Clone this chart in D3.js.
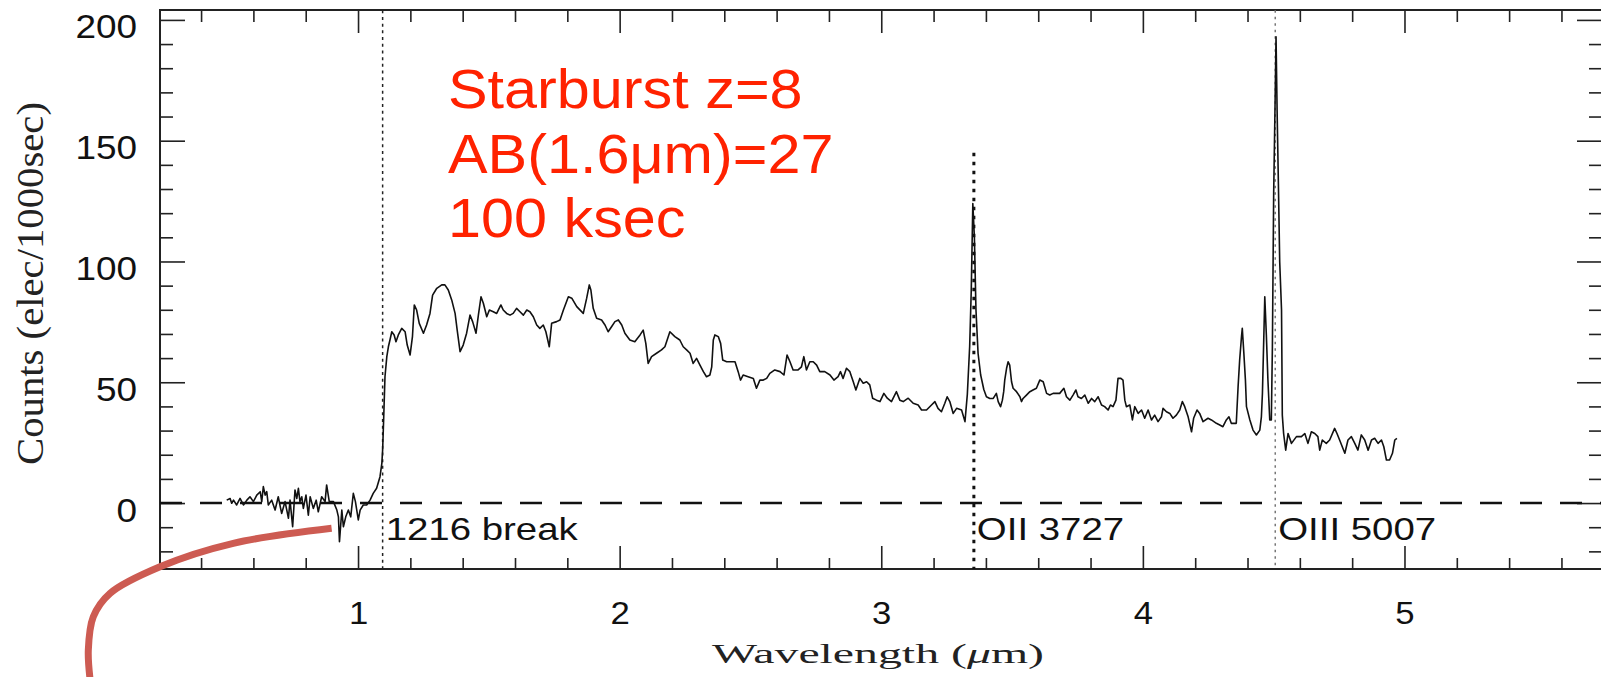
<!DOCTYPE html>
<html>
<head>
<meta charset="utf-8">
<script src="https://cdn.jsdelivr.net/npm/d3@7"></script>
<style>
  body { margin: 0; background: #fff; }
  svg { display: block; }
</style>
</head>
<body>
<div id="chart"></div>
<script>
// Spectrum: wavelength (micron) and counts (elec/1000sec)
const wavelength = [
  0.498,0.511,0.517,0.524,0.536,0.549,0.562,0.575,0.587,0.600,
  0.613,0.626,0.632,0.638,0.645,0.651,0.657,0.670,0.683,0.695,
  0.708,0.721,0.734,0.740,0.750,0.759,0.766,0.772,0.778,0.785,
  0.791,0.801,0.810,0.817,0.829,0.840,0.848,0.861,0.874,0.880,
  0.890,0.906,0.919,0.925,0.929,0.938,0.944,0.953,0.963,0.972,
  0.982,0.990,1.001,1.008,1.020,1.033,1.046,1.058,1.071,1.084,
  1.091,1.094,1.098,1.103,1.110,1.116,1.122,1.129,1.138,1.145,
  1.154,1.167,1.180,1.188,1.199,1.208,1.215,1.224,1.234,1.250,
  1.262,1.275,1.285,1.301,1.320,1.332,1.345,1.358,1.371,1.379,
  1.390,1.402,1.415,1.428,1.438,1.451,1.460,1.470,1.479,1.492,
  1.502,1.517,1.530,1.546,1.555,1.568,1.581,1.593,1.606,1.619,
  1.632,1.645,1.657,1.670,1.683,1.695,1.708,1.718,1.731,1.740,
  1.759,1.772,1.785,1.804,1.817,1.836,1.861,1.874,1.884,1.890,
  1.899,1.912,1.931,1.944,1.956,1.969,1.982,1.995,2.008,2.020,
  2.039,2.058,2.078,2.090,2.100,2.109,2.122,2.141,2.160,2.173,
  2.192,2.211,2.230,2.243,2.256,2.269,2.281,2.294,2.307,2.320,
  2.332,2.345,2.352,2.358,2.364,2.377,2.386,2.394,2.409,2.428,
  2.441,2.453,2.462,2.472,2.491,2.511,2.523,2.536,2.549,2.562,
  2.574,2.593,2.613,2.628,2.640,2.651,2.663,2.682,2.695,2.704,
  2.714,2.727,2.740,2.753,2.765,2.784,2.804,2.819,2.835,2.844,
  2.854,2.867,2.880,2.893,2.903,2.918,2.931,2.944,2.956,2.967,
  2.982,2.995,3.010,3.023,3.039,3.058,3.071,3.084,3.103,3.122,
  3.141,3.154,3.173,3.192,3.205,3.217,3.230,3.243,3.252,3.262,
  3.275,3.288,3.307,3.320,3.329,3.338,3.344,3.350,3.356,3.362,
  3.370,3.380,3.392,3.402,3.415,3.428,3.440,3.447,3.456,3.463,
  3.468,3.472,3.479,3.485,3.491,3.498,3.504,3.517,3.530,3.536,
  3.542,3.555,3.568,3.580,3.593,3.606,3.619,3.632,3.644,3.657,
  3.682,3.698,3.708,3.721,3.733,3.744,3.752,3.765,3.778,3.791,
  3.804,3.816,3.829,3.842,3.854,3.867,3.876,3.886,3.897,3.905,
  3.916,3.924,3.931,3.937,3.950,3.960,3.969,3.982,3.995,4.007,
  4.020,4.033,4.045,4.058,4.071,4.077,4.090,4.103,4.115,4.128,
  4.141,4.151,4.160,4.173,4.186,4.194,4.207,4.217,4.230,4.249,
  4.262,4.281,4.294,4.306,4.319,4.329,4.338,4.357,4.364,4.370,
  4.377,4.380,4.386,4.392,4.396,4.409,4.421,4.434,4.447,4.453,
  4.457,4.462,4.466,4.472,4.478,4.485,4.491,4.495,4.500,4.505,
  4.509,4.513,4.518,4.523,4.530,4.533,4.538,4.546,4.555,4.568,
  4.587,4.606,4.619,4.631,4.644,4.657,4.669,4.676,4.686,4.701,
  4.714,4.733,4.742,4.752,4.772,4.784,4.797,4.810,4.822,4.835,
  4.848,4.861,4.874,4.886,4.899,4.912,4.921,4.931,4.943,4.954,
  4.963,4.971
];
const counts = [
  1.2,1.9,-0.1,1.2,-0.8,1.9,-0.8,1.2,2.6,0.6,
  3.3,4.7,0.6,6.8,3.3,4.7,-0.8,1.2,-2.9,2.6,
  -4.3,0.6,-6.3,1.2,-9.8,5.4,1.9,6.1,0.6,2.6,
  -2.2,3.3,-5.0,2.6,-2.2,1.2,-3.6,2.6,0.6,7.5,
  0.6,0.6,-2.9,-5.7,-16.0,-2.9,-9.8,-5.7,-2.9,-5.7,
  4.0,0.6,-7.0,-2.9,-0.8,-0.8,1.2,4.0,6.1,10.9,
  16.4,22.0,35.0,52.3,60.6,64.7,67.5,70.9,69.6,66.8,
  69.6,72.3,70.9,65.4,61.3,68.9,82.0,79.9,74.4,70.3,
  73.7,78.5,86.1,88.9,90.3,90.3,88.2,84.1,78.5,71.6,
  62.7,65.4,70.3,77.8,75.1,70.3,77.8,85.4,82.7,77.1,
  79.9,79.2,78.5,82.0,79.9,78.5,77.8,78.5,80.6,79.2,
  77.8,79.9,79.2,77.1,73.7,72.3,73.7,70.9,64.7,74.4,
  75.1,75.8,79.9,85.4,84.8,81.3,78.5,84.8,90.3,88.2,
  80.6,76.5,75.8,73.7,70.9,73.0,75.1,75.8,73.7,70.3,
  67.5,66.8,69.6,71.6,66.1,57.8,60.6,62.0,63.4,64.7,
  70.9,68.9,67.5,64.7,63.4,62.0,57.8,59.9,57.1,54.4,
  52.3,53.0,56.4,67.5,69.6,68.9,66.1,59.2,58.5,58.5,
  58.5,54.4,50.9,53.0,52.3,51.6,47.5,50.9,50.9,51.6,
  53.7,55.1,54.4,53.0,61.3,58.5,55.1,55.1,56.4,60.6,
  55.1,58.5,58.5,57.1,54.4,54.4,53.0,50.9,52.3,54.4,
  51.6,55.8,54.4,50.2,46.8,51.6,49.6,50.2,48.9,43.4,
  42.6,42.0,45.4,43.4,42.0,46.1,42.6,42.0,43.4,41.3,
  40.6,38.5,38.5,40.6,42.0,39.2,37.8,41.3,44.0,42.0,
  37.1,39.2,38.5,33.7,45.0,65.0,88.0,124.0,110.0,80.0,
  62.0,53.0,47.0,44.0,43.3,43.3,45.4,42.0,39.9,42.6,
  46.1,50.9,55.8,58.5,57.1,50.2,47.5,46.1,44.0,42.0,
  43.3,44.7,46.1,46.8,47.5,50.9,50.2,45.4,44.7,45.4,
  45.4,47.5,44.0,42.6,44.7,46.8,44.0,43.3,44.7,41.3,
  43.3,42.0,44.0,40.6,39.9,38.5,40.6,39.9,42.6,51.6,
  51.6,50.9,42.6,39.9,40.6,34.4,39.9,37.1,38.5,35.1,
  38.5,34.4,36.4,33.7,35.7,39.2,37.8,37.1,35.1,36.4,
  38.5,42.0,39.9,35.7,29.5,35.1,38.5,37.1,33.7,35.1,
  34.4,33.0,32.3,31.6,34.4,35.7,33.0,33.0,48.2,59.2,
  68.9,72.3,62.0,50.9,39.9,34.4,30.2,28.2,30.2,35.7,
  45.4,67.5,85.4,69.6,50.9,34.4,34.4,64.0,128.2,163.0,
  193.0,163.0,132.4,100.0,79.9,36.4,28.8,21.9,28.8,24.7,
  27.5,27.5,28.8,24.7,29.5,28.8,27.5,21.9,26.1,24.7,
  26.1,30.9,28.8,26.1,20.6,26.1,27.5,24.7,21.9,28.2,
  26.1,21.9,26.1,26.8,24.7,26.1,23.3,17.8,17.8,20.6,
  26.1,26.8
];

// Marked spectral features (observed wavelength at z=8)
const lineWaves = [1.094, 3.354, 4.506];
const lineLabels = ["1216 break", "OII 3727", "OIII 5007"];
const lineTops = [204, 145, 204];

// Axis ticks
const xMajor = [1, 2, 3, 4, 5];
const yMajor = [0, 50, 100, 150, 200];

// Red annotation
const noteLines = ["Starburst z=8", "AB(1.6\u03bcm)=27", "100 ksec"];

// Hand-drawn red pointer, in data coordinates
const pointerWave = [0.899, 0.523, 0.243, 0.052, -0.012, -0.031, -0.024];
const pointerCounts = [-10.45, -16.66, -26.35, -37.36, -47.05, -60.83, -73.3];

const W = 1601, H = 677;
const frame = {left: 160, top: 10, right: 1602, bottom: 569};

const svg = d3.select("#chart").append("svg")
    .attr("width", W)
    .attr("height", H)
    .style("background", "#fff");

const x = d3.scaleLinear().domain([0.243, 5.755]).range([frame.left, frame.right]);
const y = d3.scaleLinear().domain([-27.3, 204.1]).range([frame.bottom, frame.top]);

const xMinor = d3.range(2, 29).map(d => d / 5).filter(d => !Number.isInteger(d));
const yMinor = d3.range(-2, 21).map(d => d * 10).filter(d => d % 50 !== 0);

const sans = "'Liberation Sans', Arial, Helvetica, sans-serif";
const serif = "'Liberation Serif', 'Times New Roman', serif";

// Axes: inward ticks on all four sides
function styleAxis(g) {
    g.select(".domain").remove();
    g.selectAll(".tick line").attr("stroke", "#222").attr("stroke-width", 1.6);
}

svg.append("g").attr("transform", `translate(${frame.left},0)`)
    .call(d3.axisLeft(y).tickValues(yMinor).tickSize(-13).tickFormat(() => ""))
    .call(styleAxis);
svg.append("g").attr("transform", `translate(${frame.right},0)`)
    .call(d3.axisRight(y).tickValues(yMinor).tickSize(-13).tickFormat(() => ""))
    .call(styleAxis);
svg.append("g").attr("transform", `translate(${frame.right},0)`)
    .call(d3.axisRight(y).tickValues(yMajor).tickSize(-25).tickFormat(() => ""))
    .call(styleAxis);
svg.append("g").attr("transform", `translate(0,${frame.top})`)
    .call(d3.axisTop(x).tickValues(xMinor).tickSize(-12).tickFormat(() => ""))
    .call(styleAxis);
svg.append("g").attr("transform", `translate(0,${frame.top})`)
    .call(d3.axisTop(x).tickValues(xMajor).tickSize(-23).tickFormat(() => ""))
    .call(styleAxis);
svg.append("g").attr("transform", `translate(0,${frame.bottom})`)
    .call(d3.axisBottom(x).tickValues(xMinor).tickSize(-11).tickFormat(() => ""))
    .call(styleAxis);

// Labelled axes
const yAxis = svg.append("g").attr("transform", `translate(${frame.left},0)`)
    .call(d3.axisLeft(y).tickValues(yMajor).tickSize(-25).tickFormat(d3.format("d")))
    .call(styleAxis);
yAxis.selectAll(".tick text")
    .attr("x", -20.5).attr("y", 18).attr("dy", null)
    .attr("transform", "scale(1.12,1)")
    .attr("fill", "#111")
    .style("font-family", sans).style("font-size", "33px");

const xAxis = svg.append("g").attr("transform", `translate(0,${frame.bottom})`)
    .call(d3.axisBottom(x).tickValues(xMajor).tickSize(-23).tickFormat(d3.format("d")))
    .call(styleAxis);
xAxis.selectAll(".tick text")
    .attr("y", 55).attr("dy", null)
    .attr("transform", "scale(1.12,1)")
    .attr("fill", "#111")
    .style("font-family", sans).style("font-size", "31px");

// Frame
svg.append("rect")
    .attr("x", frame.left).attr("y", frame.top)
    .attr("width", frame.right - frame.left).attr("height", frame.bottom - frame.top)
    .attr("fill", "none").attr("stroke", "#222").attr("stroke-width", 2);

// Zero level
svg.append("line")
    .attr("x1", frame.left).attr("x2", frame.right)
    .attr("y1", y(0)).attr("y2", y(0))
    .attr("stroke", "#111").attr("stroke-width", 2.4)
    .attr("stroke-dasharray", "22,18");

// Feature markers
const lineStyles = [
    {stroke: "#222", width: 1.5, dash: "3,3.7"},
    {stroke: "#111", width: 3, dash: "3.5,5.5"},
    {stroke: "#777", width: 1.5, dash: "2.5,4"}
];
svg.append("g").selectAll("line")
    .data(lineWaves)
    .join("line")
    .attr("x1", d => x(d)).attr("x2", d => x(d))
    .attr("y1", (d, i) => y(lineTops[i])).attr("y2", frame.bottom)
    .attr("stroke", (d, i) => lineStyles[i].stroke)
    .attr("stroke-width", (d, i) => lineStyles[i].width)
    .attr("stroke-dasharray", (d, i) => lineStyles[i].dash);

svg.append("g").selectAll("g")
    .data(lineWaves)
    .join("g")
    .attr("transform", d => `translate(${x(d) + 3},${y(0) + 37}) scale(1.2,1)`)
    .append("text")
    .text((d, i) => lineLabels[i])
    .attr("fill", "#111")
    .style("font-family", sans).style("font-size", "32px");

// Spectrum
const line = d3.line()
    .x(d => x(d[0]))
    .y(d => y(d[1]));
svg.append("path")
    .datum(d3.zip(wavelength, counts))
    .attr("d", line)
    .attr("fill", "none")
    .attr("stroke", "#111")
    .attr("stroke-width", 1.6)
    .attr("stroke-linejoin", "round");

// Axis titles
svg.append("text")
    .attr("transform", "translate(43,283.5) rotate(-90)")
    .attr("text-anchor", "middle")
    .attr("textLength", 363).attr("lengthAdjust", "spacingAndGlyphs")
    .attr("fill", "#222")
    .style("font-family", serif).style("font-size", "38px")
    .text("Counts (elec/1000sec)");

const xTitle = svg.append("text")
    .attr("x", 878).attr("y", 663)
    .attr("text-anchor", "middle")
    .attr("textLength", 332).attr("lengthAdjust", "spacingAndGlyphs")
    .attr("fill", "#222")
    .style("font-family", serif).style("font-size", "28px");
xTitle.append("tspan").text("Wavelength (");
xTitle.append("tspan").style("font-style", "italic").text("\u03bc");
xTitle.append("tspan").text("m)");

// Red annotation
svg.append("g").selectAll("g")
    .data(noteLines)
    .join("g")
    .attr("transform", (d, i) => `translate(448,${108 + i * 64.5}) scale(1.06,1)`)
    .append("text")
    .attr("fill", "#ff2200")
    .style("font-family", sans).style("font-size", "56px")
    .text(d => d);

// Red pointer curve
svg.append("path")
    .datum(d3.zip(pointerWave, pointerCounts))
    .attr("d", d3.line().x(d => x(d[0])).y(d => y(d[1])).curve(d3.curveCatmullRom))
    .attr("fill", "none")
    .attr("stroke", "#cd5b52")
    .attr("stroke-width", 7);
</script>
</body>
</html>
